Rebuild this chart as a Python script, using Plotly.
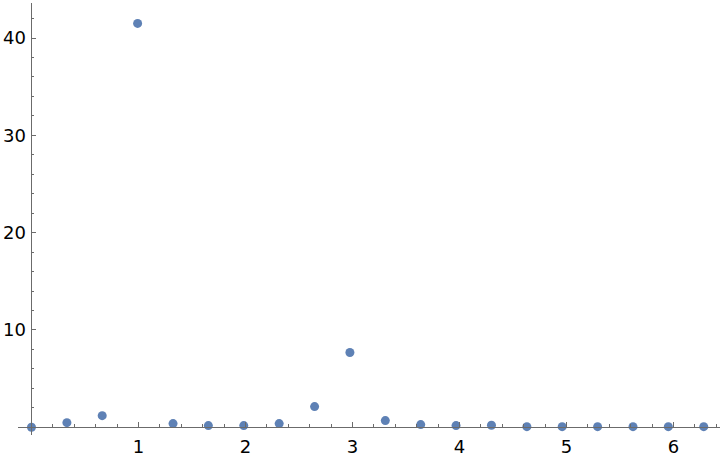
import plotly.graph_objects as go

x_vals = [0.0, 0.331, 0.661, 0.992, 1.323, 1.653, 1.984, 2.315, 2.646, 2.976,
          3.307, 3.638, 3.968, 4.299, 4.630, 4.960, 5.291, 5.622, 5.952, 6.283]
y_vals = [0.0, 0.47, 1.19, 41.5, 0.37, 0.17, 0.17, 0.37, 2.12, 7.68,
          0.68, 0.27, 0.17, 0.2, 0.06, 0.06, 0.06, 0.06, 0.06, 0.06]
x_ticks = [1, 2, 3, 4, 5, 6]
y_ticks = [10, 20, 30, 40]

x_range = [-0.126, 6.435]
y_range = [-0.8, 43.6]

axis_color = "#6b6b6b"
font = dict(family="DejaVu Sans", size=18, color="black")

fig = go.Figure()
fig.add_trace(go.Scatter(
    x=x_vals, y=y_vals, mode="markers",
    marker=dict(size=9, color="#5E81B5", line=dict(width=0)),
    cliponaxis=False, showlegend=False, hoverinfo="skip",
))

fig.update_layout(
    width=720, height=458,
    margin=dict(l=18, r=0, t=3, b=23),
    paper_bgcolor="white", plot_bgcolor="white",
    font=font,
    xaxis=dict(
        range=x_range, anchor="free",
        position=(0 - y_range[0]) / (y_range[1] - y_range[0]),
        showgrid=False, zeroline=False,
        showline=True, linecolor=axis_color, linewidth=1,
        tickmode="array", tickvals=x_ticks, ticktext=[str(v) for v in x_ticks],
        ticks="inside", ticklen=5, tickcolor=axis_color, tickwidth=1,
        minor=dict(ticks="inside", ticklen=3, tickcolor=axis_color, dtick=0.2, tick0=0, showgrid=False),
        tickfont=font, automargin=False, ticklabelstandoff=3,
    ),
    yaxis=dict(
        range=y_range, anchor="free",
        position=(0 - x_range[0]) / (x_range[1] - x_range[0]),
        showgrid=False, zeroline=False,
        showline=True, linecolor=axis_color, linewidth=1,
        tickmode="array", tickvals=y_ticks, ticktext=[str(v) for v in y_ticks],
        ticks="inside", ticklen=4, tickcolor=axis_color, tickwidth=1,
        minor=dict(ticks="inside", ticklen=2, tickcolor=axis_color, dtick=2, tick0=0, showgrid=False),
        tickfont=font, automargin=False, ticklabelstandoff=2,
    ),
)

fig.write_html("out.html", config={"displayModeBar": False},
               post_script="document.body.style.margin='0px';")
